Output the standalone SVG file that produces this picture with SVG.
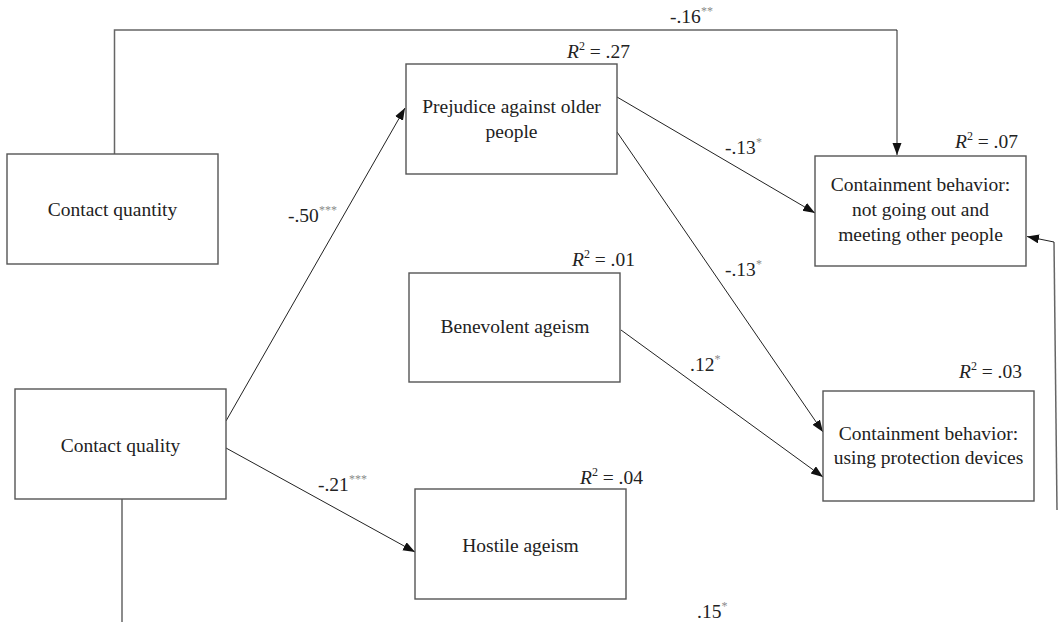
<svg xmlns="http://www.w3.org/2000/svg" width="1059" height="622" viewBox="0 0 1059 622">
<defs>
<marker id="arr" markerUnits="userSpaceOnUse" markerWidth="13" markerHeight="10" refX="12" refY="4.5" orient="auto">
<path d="M0,0 L12,4.5 L0,9 z" fill="#111"/>
</marker>
</defs>
<style>
text{font-family:'Liberation Serif','Times New Roman',serif;font-size:19.5px;fill:#222}
.t{text-anchor:middle}
.r2{text-anchor:end}
.sup{font-size:12px;fill:#8a8a8a}
.sup2{font-size:12px}
.box{fill:#fff;stroke:#555;stroke-width:1.4}
.c{fill:none;stroke:#222;stroke-width:1}
.cg{fill:none;stroke:#666;stroke-width:1.5}
</style>
<rect width="1059" height="622" fill="#fff"/>
<g id="connectors">
<path class="cg" d="M114.5,154 V30 H897"/>
<path class="c" d="M897,30 V155" marker-end="url(#arr)"/>
<path class="c" d="M226,421 L405,108" marker-end="url(#arr)"/>
<path class="c" d="M226,448 L415,552" marker-end="url(#arr)"/>
<path class="c" d="M617,97 L815,213" marker-end="url(#arr)"/>
<path class="c" d="M617,132 L823,432" marker-end="url(#arr)"/>
<path class="c" d="M621,330 L823,477" marker-end="url(#arr)"/>
<path class="cg" d="M122,499 V622"/>
<path class="cg" d="M1057,510 L1054,242"/>
<path class="c" d="M1054,242 L1027,236.5" marker-end="url(#arr)"/>
<text x="288" y="222">-.50<tspan class="sup" dy="-8">***</tspan></text>
<text x="670" y="23">-.16<tspan class="sup" dy="-8">**</tspan></text>
<text x="725" y="154">-.13<tspan class="sup" dy="-8">*</tspan></text>
<text x="725" y="276">-.13<tspan class="sup" dy="-8">*</tspan></text>
<text x="690" y="371">.12<tspan class="sup" dy="-8">*</tspan></text>
<text x="318" y="491">-.21<tspan class="sup" dy="-8">***</tspan></text>
<text x="697" y="618">.15<tspan class="sup" dy="-8">*</tspan></text>
</g>
<g id="contact-quantity">
<rect class="box" x="7" y="154" width="211" height="110"/>
<text class="t" x="112.5" y="216">Contact quantity</text>
</g>
<g id="contact-quality">
<rect class="box" x="15" y="389" width="211" height="110"/>
<text class="t" x="120.5" y="452">Contact quality</text>
</g>
<g id="prejudice">
<rect class="box" x="406" y="64" width="211" height="110"/>
<text class="t" x="511.5" y="113">Prejudice against older</text>
<text class="t" x="511.5" y="138">people</text>
<text class="r2" x="630" y="58"><tspan font-style="italic">R</tspan><tspan class="sup2" dy="-8">2</tspan><tspan dy="8"> = .27</tspan></text>
</g>
<g id="benevolent">
<rect class="box" x="409" y="273" width="211" height="109"/>
<text class="t" x="515" y="333">Benevolent ageism</text>
<text class="r2" x="635" y="266"><tspan font-style="italic">R</tspan><tspan class="sup2" dy="-8">2</tspan><tspan dy="8"> = .01</tspan></text>
</g>
<g id="hostile">
<rect class="box" x="415" y="489" width="211" height="110"/>
<text class="t" x="520.5" y="552">Hostile ageism</text>
<text class="r2" x="643" y="484"><tspan font-style="italic">R</tspan><tspan class="sup2" dy="-8">2</tspan><tspan dy="8"> = .04</tspan></text>
</g>
<g id="containment-going-out">
<rect class="box" x="815" y="156" width="211" height="110"/>
<text class="t" x="920.5" y="191">Containment behavior:</text>
<text class="t" x="920.5" y="216">not going out and</text>
<text class="t" x="920.5" y="241">meeting other people</text>
<text class="r2" x="1018" y="148"><tspan font-style="italic">R</tspan><tspan class="sup2" dy="-8">2</tspan><tspan dy="8"> = .07</tspan></text>
</g>
<g id="containment-protection">
<rect class="box" x="823" y="391" width="211" height="110"/>
<text class="t" x="928.5" y="440">Containment behavior:</text>
<text class="t" x="928.5" y="464">using protection devices</text>
<text class="r2" x="1022" y="378"><tspan font-style="italic">R</tspan><tspan class="sup2" dy="-8">2</tspan><tspan dy="8"> = .03</tspan></text>
</g>
</svg>
